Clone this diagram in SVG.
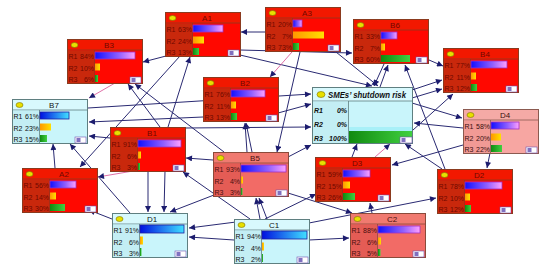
<svg xmlns="http://www.w3.org/2000/svg" width="550" height="270" viewBox="0 0 550 270">
<defs>
<style>
text{font-family:"Liberation Sans",Arial,sans-serif;font-size:7px}
.t{font-size:8px;text-anchor:middle}
.p{text-anchor:end}
.body{stroke-width:1}
.sep{stroke-width:0.8}
.red .body{fill:#ff0800;stroke:#8b3a1e}
.red .hdr{fill:#f21800}
.red .lab{fill:#c9280c}
.red .sep{stroke:#8b3a1e}
.red text{fill:#6e0800}
.sal .body{fill:#f26b66;stroke:#8b4a3a}
.sal .hdr{fill:#f07a70}
.sal .lab{fill:#e45c55}
.sal .sep{stroke:#8b4a3a}
.sal text{fill:#4a1010}
.pnk .body{fill:#f7a6a2;stroke:#8b5a50}
.pnk .hdr{fill:#f5aaa6}
.pnk .lab{fill:#f19a95}
.pnk .sep{stroke:#8b5a50}
.pnk text{fill:#3a1010}
.cy .body{fill:#c9f5fb;stroke:#5f7f80}
.cy .hdr{fill:#d8f9fd}
.cy .lab{fill:#c3eef4}
.cy .sep{stroke:#5f7f80}
.cy text{fill:#111}
.led{fill:#e8e000;stroke:#7a7000;stroke-width:0.6}
.red .b1,.sal .b1,.pnk .b1{fill:url(#g1r);stroke:#a030c0;stroke-width:0.8}
.cy .b1{fill:url(#g1c);stroke:#2020a0;stroke-width:0.8}
.b2{fill:url(#g2)}
.b3{fill:url(#g3)}
.ic rect{fill:#fff;stroke:#7050b0;stroke-width:0.6}
.ic .i2{fill:#8070c0;stroke:none}
.e{stroke:#2a2a72;stroke-width:1;fill:none;marker-end:url(#arr)}
.e.pk{stroke:#e070a8}
</style>
<linearGradient id="g1r" x1="0" y1="0" x2="1" y2="0"><stop offset="0" stop-color="#1010ff"/><stop offset="0.6" stop-color="#9060ff"/><stop offset="1" stop-color="#ffa0ff"/></linearGradient>
<linearGradient id="g1c" x1="0" y1="0" x2="1" y2="0"><stop offset="0" stop-color="#0010e0"/><stop offset="1" stop-color="#40e0ff"/></linearGradient>
<linearGradient id="g2" x1="0" y1="0" x2="1" y2="0"><stop offset="0" stop-color="#ff9800"/><stop offset="1" stop-color="#ffe000"/></linearGradient>
<linearGradient id="g3" x1="0" y1="0" x2="1" y2="0"><stop offset="0" stop-color="#108a10"/><stop offset="1" stop-color="#40d040"/></linearGradient>
<marker id="arr" viewBox="0 0 10 10" refX="10" refY="5" markerWidth="8" markerHeight="6" markerUnits="userSpaceOnUse" orient="auto"><path d="M0,0 L10,5 L0,10 z" fill="#1c1c6e"/></marker>
</defs>
<rect width="550" height="270" fill="#fff"/>
<g id="connectors">
<line class="e pk" x1="115" y1="83" x2="89" y2="98"/>
<line class="e" x1="166" y1="56" x2="143" y2="62"/>
<line class="e" x1="160" y1="127" x2="128" y2="84"/>
<line class="e" x1="224" y1="152" x2="135" y2="84"/>
<line class="e" x1="168" y1="127" x2="190" y2="57"/>
<line class="e" x1="265" y1="32" x2="241" y2="32"/>
<line class="e" x1="240" y1="50" x2="352" y2="53"/>
<line class="e" x1="240" y1="55" x2="372" y2="86"/>
<line class="e" x1="336" y1="52" x2="378" y2="86"/>
<line class="e" x1="384" y1="64" x2="374" y2="86"/>
<line class="e" x1="380" y1="87" x2="388" y2="65"/>
<line class="e" x1="445" y1="169" x2="405" y2="65"/>
<line class="e" x1="412" y1="90" x2="442" y2="80"/>
<line class="e" x1="412" y1="98" x2="442" y2="89"/>
<line class="e" x1="413" y1="130" x2="453" y2="94"/>
<line class="e" x1="463" y1="128" x2="414" y2="123"/>
<line class="e" x1="412" y1="103" x2="462" y2="118"/>
<line class="e" x1="429" y1="60" x2="443" y2="66"/>
<line class="e" x1="442" y1="169" x2="405" y2="144"/>
<line class="e" x1="463" y1="145" x2="392" y2="165"/>
<line class="e" x1="490" y1="153" x2="487" y2="168"/>
<line class="e" x1="309" y1="223" x2="436" y2="198"/>
<line class="e" x1="372" y1="213" x2="370" y2="203"/>
<line class="e" x1="352" y1="157" x2="357" y2="144"/>
<line class="e pk" x1="375" y1="157" x2="390" y2="144"/>
<line class="e" x1="265" y1="219" x2="316" y2="194"/>
<line class="e" x1="247" y1="152" x2="245" y2="123"/>
<line class="e" x1="252" y1="152" x2="246" y2="123"/>
<line class="e" x1="288" y1="157" x2="311" y2="145"/>
<line class="e" x1="185" y1="128" x2="311" y2="127"/>
<line class="e" x1="278" y1="113" x2="311" y2="104"/>
<line class="e" x1="203" y1="117" x2="89" y2="122"/>
<line class="e" x1="88" y1="108" x2="311" y2="94"/>
<line class="e" x1="213" y1="160" x2="186" y2="158"/>
<line class="e" x1="260" y1="219" x2="256" y2="198"/>
<line class="e" x1="267" y1="219" x2="259" y2="198"/>
<line class="e" x1="234" y1="240" x2="189" y2="237"/>
<line class="e" x1="309" y1="240" x2="349" y2="238"/>
<line class="e" x1="148" y1="171" x2="148" y2="212"/>
<line class="e" x1="165" y1="171" x2="164" y2="212"/>
<line class="e" x1="214" y1="195" x2="170" y2="212"/>
<line class="e" x1="236" y1="222" x2="189" y2="228"/>
<line class="e" x1="250" y1="219" x2="183" y2="172"/>
<line class="e" x1="110" y1="138" x2="89" y2="136"/>
<line class="e" x1="180" y1="56" x2="80" y2="167"/>
<line class="e" x1="55" y1="168" x2="53" y2="144"/>
<line class="e" x1="130" y1="213" x2="70" y2="144"/>
<line class="e" x1="112" y1="219" x2="89" y2="210"/>
<line class="e pk" x1="133" y1="171" x2="98" y2="177"/>
<line class="e pk" x1="292" y1="52" x2="270" y2="77"/>
<line class="e" x1="300" y1="52" x2="277" y2="152"/>
<line class="e" x1="288" y1="193" x2="352" y2="213"/>
</g>

<g id="node-B7" class="cy" transform="translate(12,99)">
<rect class="body" x="0.5" y="0.5" width="75" height="44"/><rect class="hdr" x="1" y="1" width="74" height="10"/><line class="sep" x1="0.5" y1="11" x2="75.5" y2="11"/><rect class="lab" x="1" y="11.5" width="26" height="32.5"/><line class="sep" x1="27.5" y1="11" x2="27.5" y2="44.5"/>
<ellipse class="led" cx="7.5" cy="6" rx="3.5" ry="2.5"/><text class="t" x="42" y="9">B7</text>
<text x="1.5" y="20">R1</text><text class="p" x="27" y="20">61%</text><text x="1.5" y="31.5">R2</text><text class="p" x="27" y="31.5">23%</text><text x="1.5" y="43">R3</text><text class="p" x="27" y="43">15%</text>
<rect class="b1" x="28" y="13" width="29" height="7"/><rect class="b2" x="28" y="24.5" width="11" height="7"/><rect class="b3" x="28" y="36" width="7" height="7"/>
<g class="ic"><rect x="63" y="38" width="11" height="6"/><rect class="i2" x="64.5" y="39" width="4" height="4"/></g>
</g>

<g id="node-B3" class="red" transform="translate(67,39)">
<rect class="body" x="0.5" y="0.5" width="75" height="44"/><rect class="hdr" x="1" y="1" width="74" height="10"/><line class="sep" x1="0.5" y1="11" x2="75.5" y2="11"/><rect class="lab" x="1" y="11.5" width="26" height="32.5"/><line class="sep" x1="27.5" y1="11" x2="27.5" y2="44.5"/>
<ellipse class="led" cx="7.5" cy="6" rx="3.5" ry="2.5"/><text class="t" x="42" y="9">B3</text>
<text x="1.5" y="20">R1</text><text class="p" x="27" y="20">84%</text><text x="1.5" y="31.5">R2</text><text class="p" x="27" y="31.5">10%</text><text x="1.5" y="43">R3</text><text class="p" x="27" y="43">6%</text>
<rect class="b1" x="28" y="13" width="40" height="7"/><rect class="b2" x="28" y="24.5" width="5" height="7"/><rect class="b3" x="28" y="36" width="3" height="7"/>
<g class="ic"><rect x="63" y="38" width="11" height="6"/><rect class="i2" x="64.5" y="39" width="4" height="4"/></g>
</g>

<g id="node-A1" class="red" transform="translate(165,12)">
<rect class="body" x="0.5" y="0.5" width="75" height="44"/><rect class="hdr" x="1" y="1" width="74" height="10"/><line class="sep" x1="0.5" y1="11" x2="75.5" y2="11"/><rect class="lab" x="1" y="11.5" width="26" height="32.5"/><line class="sep" x1="27.5" y1="11" x2="27.5" y2="44.5"/>
<ellipse class="led" cx="7.5" cy="6" rx="3.5" ry="2.5"/><text class="t" x="42" y="9">A1</text>
<text x="1.5" y="20">R1</text><text class="p" x="27" y="20">63%</text><text x="1.5" y="31.5">R2</text><text class="p" x="27" y="31.5">24%</text><text x="1.5" y="43">R3</text><text class="p" x="27" y="43">13%</text>
<rect class="b1" x="28" y="13" width="30" height="7"/><rect class="b2" x="28" y="24.5" width="11" height="7"/><rect class="b3" x="28" y="36" width="6" height="7"/>
<g class="ic"><rect x="63" y="38" width="11" height="6"/><rect class="i2" x="64.5" y="39" width="4" height="4"/></g>
</g>

<g id="node-A3" class="red" transform="translate(265,7)">
<rect class="body" x="0.5" y="0.5" width="75" height="44"/><rect class="hdr" x="1" y="1" width="74" height="10"/><line class="sep" x1="0.5" y1="11" x2="75.5" y2="11"/><rect class="lab" x="1" y="11.5" width="26" height="32.5"/><line class="sep" x1="27.5" y1="11" x2="27.5" y2="44.5"/>
<ellipse class="led" cx="7.5" cy="6" rx="3.5" ry="2.5"/><text class="t" x="42" y="9">A3</text>
<text x="1.5" y="20">R1</text><text class="p" x="27" y="20">20%</text><text x="1.5" y="31.5">R2</text><text class="p" x="27" y="31.5">7%</text><text x="1.5" y="43">R3</text><text class="p" x="27" y="43">73%</text>
<rect class="b1" x="28" y="13" width="9" height="7"/><rect class="b2" x="28" y="24.5" width="31" height="7"/><rect class="b3" x="28" y="36" width="6" height="7"/>
<g class="ic"><rect x="63" y="38" width="11" height="6"/><rect class="i2" x="64.5" y="39" width="4" height="4"/></g>
</g>

<g id="node-B6" class="red" transform="translate(353,19)">
<rect class="body" x="0.5" y="0.5" width="75" height="44"/><rect class="hdr" x="1" y="1" width="74" height="10"/><line class="sep" x1="0.5" y1="11" x2="75.5" y2="11"/><rect class="lab" x="1" y="11.5" width="26" height="32.5"/><line class="sep" x1="27.5" y1="11" x2="27.5" y2="44.5"/>
<ellipse class="led" cx="7.5" cy="6" rx="3.5" ry="2.5"/><text class="t" x="42" y="9">B6</text>
<text x="1.5" y="20">R1</text><text class="p" x="27" y="20">33%</text><text x="1.5" y="31.5">R2</text><text class="p" x="27" y="31.5">7%</text><text x="1.5" y="43">R3</text><text class="p" x="27" y="43">60%</text>
<rect class="b1" x="28" y="13" width="16" height="7"/><rect class="b2" x="28" y="24.5" width="4" height="7"/><rect class="b3" x="28" y="36" width="29" height="7"/>
<g class="ic"><rect x="63" y="38" width="11" height="6"/><rect class="i2" x="64.5" y="39" width="4" height="4"/></g>
</g>

<g id="node-B4" class="red" transform="translate(443,48)">
<rect class="body" x="0.5" y="0.5" width="75" height="44"/><rect class="hdr" x="1" y="1" width="74" height="10"/><line class="sep" x1="0.5" y1="11" x2="75.5" y2="11"/><rect class="lab" x="1" y="11.5" width="26" height="32.5"/><line class="sep" x1="27.5" y1="11" x2="27.5" y2="44.5"/>
<ellipse class="led" cx="7.5" cy="6" rx="3.5" ry="2.5"/><text class="t" x="42" y="9">B4</text>
<text x="1.5" y="20">R1</text><text class="p" x="27" y="20">77%</text><text x="1.5" y="31.5">R2</text><text class="p" x="27" y="31.5">11%</text><text x="1.5" y="43">R3</text><text class="p" x="27" y="43">12%</text>
<rect class="b1" x="28" y="13" width="36" height="7"/><rect class="b2" x="28" y="24.5" width="5" height="7"/><rect class="b3" x="28" y="36" width="6" height="7"/>
<g class="ic"><rect x="63" y="38" width="11" height="6"/><rect class="i2" x="64.5" y="39" width="4" height="4"/></g>
</g>

<g id="node-B2" class="red" transform="translate(203,77)">
<rect class="body" x="0.5" y="0.5" width="75" height="44"/><rect class="hdr" x="1" y="1" width="74" height="10"/><line class="sep" x1="0.5" y1="11" x2="75.5" y2="11"/><rect class="lab" x="1" y="11.5" width="26" height="32.5"/><line class="sep" x1="27.5" y1="11" x2="27.5" y2="44.5"/>
<ellipse class="led" cx="7.5" cy="6" rx="3.5" ry="2.5"/><text class="t" x="42" y="9">B2</text>
<text x="1.5" y="20">R1</text><text class="p" x="27" y="20">76%</text><text x="1.5" y="31.5">R2</text><text class="p" x="27" y="31.5">11%</text><text x="1.5" y="43">R3</text><text class="p" x="27" y="43">13%</text>
<rect class="b1" x="28" y="13" width="34" height="7"/><rect class="b2" x="28" y="24.5" width="5" height="7"/><rect class="b3" x="28" y="36" width="6" height="7"/>
<g class="ic"><rect x="63" y="38" width="11" height="6"/><rect class="i2" x="64.5" y="39" width="4" height="4"/></g>
</g>

<g id="node-SMEs" class="cy" transform="translate(312,87)">
<rect class="body" x="0.5" y="0.5" width="100" height="56"/><rect class="hdr" x="1" y="1" width="99" height="13"/><line class="sep" x1="0.5" y1="14" x2="100.5" y2="14"/><rect class="lab" x="1" y="14.5" width="35" height="41.5"/><line class="sep" x1="36.5" y1="14" x2="36.5" y2="56.5"/>
<ellipse class="led" cx="9" cy="7.5" rx="4" ry="3"/>
<text x="16" y="11" style="font-size:9px;font-weight:bold;font-style:italic" textLength="78" lengthAdjust="spacingAndGlyphs">SMEs’ shutdown risk</text>
<g style="font-size:9px;font-weight:bold;font-style:italic"><text x="2" y="25.5">R1</text><text class="p" x="35" y="25.5">0%</text><text x="2" y="39.5">R2</text><text class="p" x="35" y="39.5">0%</text><text x="2" y="53.5">R3</text><text class="p" x="35" y="53.5">100%</text></g>
<rect x="37" y="40" width="63" height="4" fill="#a8f0f8"/>
<rect class="b3" x="37" y="44" width="63" height="12"/>
<g class="ic"><rect x="88" y="50" width="12" height="6"/><rect class="i2" x="89.5" y="51" width="4" height="4"/></g>
</g>

<g id="node-D4" class="pnk" transform="translate(463,109)">
<rect class="body" x="0.5" y="0.5" width="75" height="44"/><rect class="hdr" x="1" y="1" width="74" height="10"/><line class="sep" x1="0.5" y1="11" x2="75.5" y2="11"/><rect class="lab" x="1" y="11.5" width="26" height="32.5"/><line class="sep" x1="27.5" y1="11" x2="27.5" y2="44.5"/>
<ellipse class="led" cx="7.5" cy="6" rx="3.5" ry="2.5"/><text class="t" x="42" y="9">D4</text>
<text x="1.5" y="20">R1</text><text class="p" x="27" y="20">58%</text><text x="1.5" y="31.5">R2</text><text class="p" x="27" y="31.5">20%</text><text x="1.5" y="43">R3</text><text class="p" x="27" y="43">22%</text>
<rect class="b1" x="28" y="13" width="28" height="7"/><rect class="b2" x="28" y="24.5" width="10" height="7"/><rect class="b3" x="28" y="36" width="11" height="7"/>
<g class="ic"><rect x="63" y="38" width="11" height="6"/><rect class="i2" x="64.5" y="39" width="4" height="4"/></g>
</g>

<g id="node-B1" class="red" transform="translate(110,127)">
<rect class="body" x="0.5" y="0.5" width="75" height="44"/><rect class="hdr" x="1" y="1" width="74" height="10"/><line class="sep" x1="0.5" y1="11" x2="75.5" y2="11"/><rect class="lab" x="1" y="11.5" width="26" height="32.5"/><line class="sep" x1="27.5" y1="11" x2="27.5" y2="44.5"/>
<ellipse class="led" cx="7.5" cy="6" rx="3.5" ry="2.5"/><text class="t" x="42" y="9">B1</text>
<text x="1.5" y="20">R1</text><text class="p" x="27" y="20">91%</text><text x="1.5" y="31.5">R2</text><text class="p" x="27" y="31.5">6%</text><text x="1.5" y="43">R3</text><text class="p" x="27" y="43">3%</text>
<rect class="b1" x="28" y="13" width="43" height="7"/><rect class="b2" x="28" y="24.5" width="3" height="7"/><rect class="b3" x="28" y="36" width="2" height="7"/>
<g class="ic"><rect x="63" y="38" width="11" height="6"/><rect class="i2" x="64.5" y="39" width="4" height="4"/></g>
</g>

<g id="node-A2" class="red" transform="translate(22,168)">
<rect class="body" x="0.5" y="0.5" width="75" height="44"/><rect class="hdr" x="1" y="1" width="74" height="10"/><line class="sep" x1="0.5" y1="11" x2="75.5" y2="11"/><rect class="lab" x="1" y="11.5" width="26" height="32.5"/><line class="sep" x1="27.5" y1="11" x2="27.5" y2="44.5"/>
<ellipse class="led" cx="7.5" cy="6" rx="3.5" ry="2.5"/><text class="t" x="42" y="9">A2</text>
<text x="1.5" y="20">R1</text><text class="p" x="27" y="20">56%</text><text x="1.5" y="31.5">R2</text><text class="p" x="27" y="31.5">14%</text><text x="1.5" y="43">R3</text><text class="p" x="27" y="43">30%</text>
<rect class="b1" x="28" y="13" width="26" height="7"/><rect class="b2" x="28" y="24.5" width="6" height="7"/><rect class="b3" x="28" y="36" width="15" height="7"/>
<g class="ic"><rect x="63" y="38" width="11" height="6"/><rect class="i2" x="64.5" y="39" width="4" height="4"/></g>
</g>

<g id="node-B5" class="sal" transform="translate(213,152)">
<rect class="body" x="0.5" y="0.5" width="75" height="44"/><rect class="hdr" x="1" y="1" width="74" height="10"/><line class="sep" x1="0.5" y1="11" x2="75.5" y2="11"/><rect class="lab" x="1" y="11.5" width="26" height="32.5"/><line class="sep" x1="27.5" y1="11" x2="27.5" y2="44.5"/>
<ellipse class="led" cx="7.5" cy="6" rx="3.5" ry="2.5"/><text class="t" x="42" y="9">B5</text>
<text x="1.5" y="20">R1</text><text class="p" x="27" y="20">93%</text><text x="1.5" y="31.5">R2</text><text class="p" x="27" y="31.5">4%</text><text x="1.5" y="43">R3</text><text class="p" x="27" y="43">3%</text>
<rect class="b1" x="28" y="13" width="45" height="7"/><rect class="b2" x="28" y="24.5" width="2" height="7"/><rect class="b3" x="28" y="36" width="1.5" height="7"/>
<g class="ic"><rect x="63" y="38" width="11" height="6"/><rect class="i2" x="64.5" y="39" width="4" height="4"/></g>
</g>

<g id="node-D3" class="red" transform="translate(315,157)">
<rect class="body" x="0.5" y="0.5" width="75" height="44"/><rect class="hdr" x="1" y="1" width="74" height="10"/><line class="sep" x1="0.5" y1="11" x2="75.5" y2="11"/><rect class="lab" x="1" y="11.5" width="26" height="32.5"/><line class="sep" x1="27.5" y1="11" x2="27.5" y2="44.5"/>
<ellipse class="led" cx="7.5" cy="6" rx="3.5" ry="2.5"/><text class="t" x="42" y="9">D3</text>
<text x="1.5" y="20">R1</text><text class="p" x="27" y="20">59%</text><text x="1.5" y="31.5">R2</text><text class="p" x="27" y="31.5">15%</text><text x="1.5" y="43">R3</text><text class="p" x="27" y="43">26%</text>
<rect class="b1" x="28" y="13" width="27" height="7"/><rect class="b2" x="28" y="24.5" width="7" height="7"/><rect class="b3" x="28" y="36" width="12" height="7"/>
<g class="ic"><rect x="63" y="38" width="11" height="6"/><rect class="i2" x="64.5" y="39" width="4" height="4"/></g>
</g>

<g id="node-D1" class="cy" transform="translate(112,213)">
<rect class="body" x="0.5" y="0.5" width="75" height="44"/><rect class="hdr" x="1" y="1" width="74" height="10"/><line class="sep" x1="0.5" y1="11" x2="75.5" y2="11"/><rect class="lab" x="1" y="11.5" width="26" height="32.5"/><line class="sep" x1="27.5" y1="11" x2="27.5" y2="44.5"/>
<ellipse class="led" cx="7.5" cy="6" rx="3.5" ry="2.5"/><text class="t" x="40" y="9">D1</text>
<text x="1.5" y="20">R1</text><text class="p" x="27" y="20">91%</text><text x="1.5" y="31.5">R2</text><text class="p" x="27" y="31.5">6%</text><text x="1.5" y="43">R3</text><text class="p" x="27" y="43">3%</text>
<rect class="b1" x="28" y="12" width="44" height="8"/><rect class="b2" x="28" y="23.5" width="3" height="8"/><rect class="b3" x="28" y="35" width="1.5" height="8"/>
<g class="ic"><rect x="63" y="38" width="11" height="6"/><rect class="i2" x="64.5" y="39" width="4" height="4"/></g>
</g>

<g id="node-C1" class="cy" transform="translate(234,219)">
<rect class="body" x="0.5" y="0.5" width="75" height="44"/><rect class="hdr" x="1" y="1" width="74" height="10"/><line class="sep" x1="0.5" y1="11" x2="75.5" y2="11"/><rect class="lab" x="1" y="11.5" width="26" height="32.5"/><line class="sep" x1="27.5" y1="11" x2="27.5" y2="44.5"/>
<ellipse class="led" cx="7.5" cy="6" rx="3.5" ry="2.5"/><text class="t" x="40" y="9">C1</text>
<text x="1.5" y="20">R1</text><text class="p" x="27" y="20">94%</text><text x="1.5" y="31.5">R2</text><text class="p" x="27" y="31.5">4%</text><text x="1.5" y="43">R3</text><text class="p" x="27" y="43">2%</text>
<rect class="b1" x="28" y="12" width="45" height="8"/><rect class="b2" x="28" y="23.5" width="2" height="8"/><rect class="b3" x="28" y="35" width="1" height="8"/>
<g class="ic"><rect x="63" y="38" width="11" height="6"/><rect class="i2" x="64.5" y="39" width="4" height="4"/></g>
</g>

<g id="node-C2" class="sal" transform="translate(350,213)">
<rect class="body" x="0.5" y="0.5" width="75" height="44"/><rect class="hdr" x="1" y="1" width="74" height="10"/><line class="sep" x1="0.5" y1="11" x2="75.5" y2="11"/><rect class="lab" x="1" y="11.5" width="26" height="32.5"/><line class="sep" x1="27.5" y1="11" x2="27.5" y2="44.5"/>
<ellipse class="led" cx="7.5" cy="6" rx="3.5" ry="2.5"/><text class="t" x="42" y="9">C2</text>
<text x="1.5" y="20">R1</text><text class="p" x="27" y="20">88%</text><text x="1.5" y="31.5">R2</text><text class="p" x="27" y="31.5">6%</text><text x="1.5" y="43">R3</text><text class="p" x="27" y="43">5%</text>
<rect class="b1" x="28" y="13" width="42" height="7"/><rect class="b2" x="28" y="24.5" width="3" height="7"/><rect class="b3" x="28" y="36" width="2.5" height="7"/>
<g class="ic"><rect x="63" y="38" width="11" height="6"/><rect class="i2" x="64.5" y="39" width="4" height="4"/></g>
</g>

<g id="node-D2" class="red" transform="translate(437,169)">
<rect class="body" x="0.5" y="0.5" width="75" height="44"/><rect class="hdr" x="1" y="1" width="74" height="10"/><line class="sep" x1="0.5" y1="11" x2="75.5" y2="11"/><rect class="lab" x="1" y="11.5" width="26" height="32.5"/><line class="sep" x1="27.5" y1="11" x2="27.5" y2="44.5"/>
<ellipse class="led" cx="7.5" cy="6" rx="3.5" ry="2.5"/><text class="t" x="42" y="9">D2</text>
<text x="1.5" y="20">R1</text><text class="p" x="27" y="20">78%</text><text x="1.5" y="31.5">R2</text><text class="p" x="27" y="31.5">10%</text><text x="1.5" y="43">R3</text><text class="p" x="27" y="43">12%</text>
<rect class="b1" x="28" y="13" width="37" height="7"/><rect class="b2" x="28" y="24.5" width="5" height="7"/><rect class="b3" x="28" y="36" width="6" height="7"/>
<g class="ic"><rect x="63" y="38" width="11" height="6"/><rect class="i2" x="64.5" y="39" width="4" height="4"/></g>
</g>
</svg>
